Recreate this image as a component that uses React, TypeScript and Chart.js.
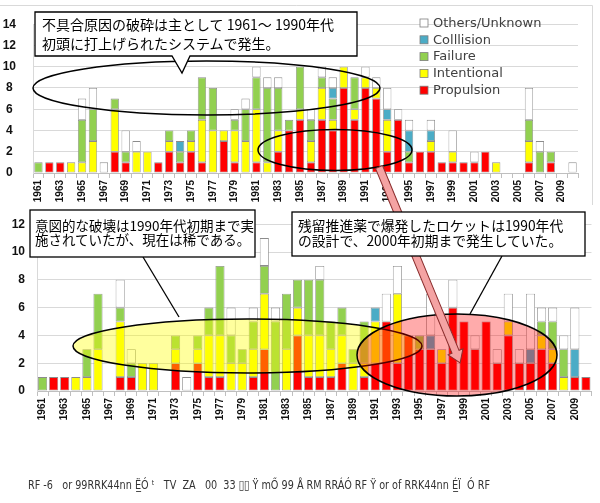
import React, { useEffect, useRef } from "react";
import { Chart, registerables } from "chart.js";

Chart.register(...registerables);

const years = [
  "1961", "1962", "1963", "1964", "1965", "1966", "1967", "1968", "1969", "1970",
  "1971", "1972", "1973", "1974", "1975", "1976", "1977", "1978", "1979", "1980",
  "1981", "1982", "1983", "1984", "1985", "1986", "1987", "1988", "1989", "1990",
  "1991", "1992", "1993", "1994", "1995", "1996", "1997", "1998", "1999", "2000",
  "2001", "2002", "2003", "2004", "2005", "2006", "2007", "2008", "2009", "2010",
];

// Upper panel: fragmentation events by cause
const upperPropulsion = [
  0, 1, 1, 0, 0, 0, 0, 2, 1, 0,
  0, 1, 2, 1, 2, 1, 0, 3, 1, 0,
  1, 0, 2, 4, 5, 1, 5, 4, 8, 5,
  8, 7, 2, 5, 1, 2, 2, 1, 1, 1,
  1, 2, 0, 0, 0, 1, 0, 1, 0, 0,
];
const upperIntentional = [
  0, 0, 0, 1, 1, 3, 0, 4, 0, 2,
  2, 0, 1, 0, 1, 4, 4, 1, 3, 3,
  5, 1, 2, 0, 1, 2, 3, 1, 2, 1,
  1, 1, 3, 0, 0, 0, 1, 0, 1, 0,
  0, 0, 1, 0, 0, 2, 0, 0, 0, 0,
];
const upperFailure = [
  1, 0, 0, 0, 4, 3, 0, 1, 1, 0,
  0, 0, 1, 1, 1, 4, 4, 0, 1, 3,
  3, 7, 4, 1, 4, 2, 1, 2, 0, 3,
  0, 0, 0, 0, 1, 0, 0, 0, 0, 0,
  0, 0, 0, 0, 0, 2, 2, 1, 0, 0,
];
const upperCollision = [
  0, 0, 0, 0, 0, 0, 0, 0, 0, 0,
  0, 0, 0, 1, 0, 0, 0, 0, 0, 0,
  0, 0, 0, 0, 0, 0, 0, 1, 0, 0,
  0, 0, 1, 0, 2, 0, 1, 0, 0, 0,
  0, 0, 0, 0, 0, 0, 0, 0, 0, 0,
];
const upperOthers = [
  0, 0, 0, 0, 2, 2, 1, 0, 2, 1,
  0, 0, 0, 0, 0, 0, 0, 0, 1, 1,
  1, 1, 1, 0, 0, 1, 1, 1, 0, 0,
  1, 1, 2, 1, 1, 0, 1, 0, 2, 0,
  1, 0, 0, 0, 0, 3, 1, 0, 0, 1,
];

// Lower panel
const lowerPropulsion = [
  0, 1, 1, 0, 0, 0, 0, 1, 1, 0,
  0, 0, 2, 0, 2, 1, 1, 0, 0, 1,
  3, 0, 0, 4, 1, 1, 1, 2, 0, 1,
  2, 5, 2, 4, 3, 3, 2, 6, 5, 3,
  5, 2, 4, 2, 2, 3, 2, 0, 1, 1,
];
const lowerIntentional = [
  0, 0, 0, 1, 1, 3, 0, 4, 0, 2,
  2, 0, 1, 0, 1, 3, 3, 2, 2, 2,
  4, 0, 3, 2, 3, 3, 2, 2, 2, 1,
  3, 0, 5, 0, 0, 0, 1, 0, 0, 0,
  0, 0, 1, 0, 0, 1, 1, 1, 0, 0,
];
const lowerFailure = [
  1, 0, 0, 0, 2, 4, 0, 1, 1, 0,
  0, 0, 1, 0, 1, 2, 5, 2, 1, 2,
  2, 5, 4, 2, 4, 4, 2, 2, 1, 3,
  0, 0, 0, 0, 1, 0, 0, 0, 0, 0,
  0, 0, 0, 0, 0, 1, 2, 2, 0, 0,
];
const lowerCollision = [
  0, 0, 0, 0, 0, 0, 0, 0, 0, 0,
  0, 0, 0, 0, 0, 0, 0, 0, 0, 0,
  0, 0, 0, 0, 0, 0, 0, 0, 0, 0,
  1, 0, 0, 0, 0, 1, 0, 0, 0, 0,
  0, 0, 0, 0, 1, 0, 0, 0, 2, 0,
];
const lowerOthers = [
  0, 0, 0, 0, 0, 0, 0, 2, 1, 0,
  0, 0, 0, 1, 0, 0, 0, 2, 0, 1,
  2, 1, 0, 0, 0, 1, 0, 0, 0, 0,
  0, 2, 2, 0, 0, 3, 0, 2, 0, 1,
  0, 1, 2, 1, 4, 1, 1, 1, 3, 0,
];

const seriesNames = ["Propulsion", "Intentional", "Failure", "Colllision", "Others/Unknown"];
const seriesColors = ["#ff0000", "#ffff00", "#92d050", "#4bacc6", "#ffffff"];

const upperMax = 14;
const lowerMax = 12;

Chart.defaults.font.family = "'Liberation Sans', Arial, sans-serif";

function buildDatasets(series: number[][], barPct: number) {
  return series.map((values, k) => ({
    label: seriesNames[k],
    data: values.map((v) => (v === 0 ? null : v)),
    backgroundColor: seriesColors[k],
    borderColor: "#8c8c8c",
    borderWidth: 0.8,
    borderSkipped: false as const,
    categoryPercentage: 1,
    barPercentage: barPct,
  }));
}

// legend for the upper panel, listed from the top of the stack down
const legendPlugin = {
  id: "stackLegend",
  afterDraw(chart: any) {
    const ctx = chart.ctx;
    ctx.save();
    ctx.font = "13px 'DejaVu Sans', sans-serif";
    ctx.textBaseline = "middle";
    const rows = [4, 3, 2, 1, 0];
    rows.forEach((k, r) => {
      const y = 23 + r * 16.8;
      ctx.fillStyle = seriesColors[k];
      ctx.fillRect(420, y - 4, 8, 8);
      ctx.strokeStyle = "#7f7f7f";
      ctx.lineWidth = 0.8;
      ctx.strokeRect(420, y - 4, 8, 8);
      ctx.fillStyle = "#404040";
      ctx.fillText(seriesNames[k], 433, y + 0.5);
    });
    ctx.restore();
  },
};

const framePlugin = {
  id: "frame",
  beforeDraw(chart: any) {
    const ctx = chart.ctx;
    ctx.save();
    ctx.strokeStyle = "#d9d9d9";
    ctx.lineWidth = 1;
    ctx.beginPath();
    ctx.moveTo(0, 5.5);
    ctx.lineTo(592.5, 5.5);
    ctx.lineTo(592.5, chart.height);
    ctx.stroke();
    ctx.restore();
  },
};

function makeConfig(
  series: number[][],
  max: number,
  barPct: number,
  padding: any,
  yWidth: number,
  xHeight: number,
  yPad: number,
  yAlign: string,
  plugins: any[]
): any {
  return {
    type: "bar",
    data: { labels: years, datasets: buildDatasets(series, barPct) },
    options: {
      responsive: false,
      animation: false,
      layout: { padding },
      plugins: { legend: { display: false }, tooltip: { enabled: false } },
      scales: {
        x: {
          stacked: true,
          grid: {
            display: true,
            drawOnChartArea: false,
            drawTicks: true,
            tickLength: 5,
            color: "#bfbfbf",
          },
          border: { color: "#bfbfbf" },
          ticks: {
            autoSkip: false,
            maxRotation: 90,
            minRotation: 90,
            padding: 2,
            color: "#111",
            font: { size: 10, weight: "bold" },
            callback: (_v: any, idx: number) => (idx % 2 === 0 ? years[idx] : ""),
          },
          afterFit: (s: any) => {
            s.height = xHeight;
          },
        },
        y: {
          stacked: true,
          min: 0,
          max,
          ticks: {
            stepSize: 2,
            padding: yPad,
            crossAlign: yAlign,
            color: "#111",
            font: { size: 12, weight: "bold" },
          },
          grid: { color: "#d9d9d9", drawTicks: false },
          border: { color: "#d9d9d9" },
          afterFit: (s: any) => {
            s.width = yWidth;
          },
        },
      },
    },
    plugins,
  };
}

function UpperChart() {
  const ref = useRef<HTMLCanvasElement | null>(null);
  useEffect(() => {
    if (!ref.current) return;
    const chart = new Chart(
      ref.current,
      makeConfig(
        [upperPropulsion, upperIntentional, upperFailure, upperCollision, upperOthers],
        upperMax,
        0.76,
        { left: 0, right: 22, top: 13, bottom: 0 },
        33,
        32,
        17,
        "center",
        [framePlugin, legendPlugin]
      )
    );
    return () => chart.destroy();
  }, []);
  return <canvas ref={ref} width={600} height={205} style={{ position: "absolute", left: 0, top: 0 }} />;
}

function LowerChart() {
  const ref = useRef<HTMLCanvasElement | null>(null);
  useEffect(() => {
    if (!ref.current) return;
    const chart = new Chart(
      ref.current,
      makeConfig(
        [lowerPropulsion, lowerIntentional, lowerFailure, lowerCollision, lowerOthers],
        lowerMax,
        0.82,
        { left: 0, right: 7, top: 10, bottom: 0 },
        37,
        49,
        12,
        "near",
        []
      )
    );
    return () => chart.destroy();
  }, []);
  return (
    <canvas
      ref={ref}
      width={600}
      height={235}
      style={{ position: "absolute", left: 0, top: 205, background: "#fff" }}
    />
  );
}

const jp = "'Noto Sans CJK JP', sans-serif";

function Notes() {
  return (
    <svg
      width={600}
      height={503}
      style={{ position: "absolute", left: 0, top: 0, pointerEvents: "none" }}
    >
      {/* upper panel outlines */}
      <ellipse cx={206.5} cy={88} rx={173.5} ry={27} fill="none" stroke="#000" strokeWidth={1.5} />
      <ellipse cx={335} cy={150} rx={77} ry={20.5} fill="none" stroke="#000" strokeWidth={1.5} />

      {/* lower panel highlights */}
      <ellipse cx={247.5} cy={346} rx={174.5} ry={27} fill="rgba(255,255,0,0.38)" stroke="#000" strokeWidth={1.5} />
      <ellipse cx={457} cy={355} rx={100} ry={41} fill="rgba(255,0,0,0.33)" stroke="#000" strokeWidth={1.5} />

      {/* arrow linking the two panels */}
      <g transform="translate(379,167) rotate(67.5)">
        <path
          d="M0,-3.8 L200,-3.8 L200,-8 L212,0 L200,8 L200,3.8 L0,3.8 Z"
          fill="#f4a3a3"
          stroke="#8b2e2e"
          strokeWidth={1}
        />
      </g>

      {/* upper callout */}
      <path
        d="M35,12 H357 V56 H190 L182,73 L172,56 H35 Z"
        fill="#fff"
        stroke="#000"
        strokeWidth={1.3}
      />
      <text x={42} y={30} fontFamily={jp} fontSize={14} fill="#000">
        不具合原因の破砕は主として 1961～ 1990年代
      </text>
      <text x={42} y={49} fontFamily={jp} fontSize={14} fill="#000">
        初頭に打上げられたシステムで発生。
      </text>

      {/* lower callouts */}
      <line x1={143} y1={257} x2={179} y2={317} stroke="#000" strokeWidth={1.3} />
      <rect x={30} y={210} width={225} height={47} fill="#fff" stroke="#000" strokeWidth={1.3} />
      <text x={35} y={231} fontFamily={jp} fontSize={13.5} fill="#000">
        意図的な破壊は1990年代初期まで実
      </text>
      <text x={35} y={245} fontFamily={jp} fontSize={13.5} fill="#000">
        施されていたが、現在は稀である。
      </text>

      <line x1={502} y1={256} x2={470} y2={314} stroke="#000" strokeWidth={1.3} />
      <rect x={292} y={212} width={293} height={44} fill="#fff" stroke="#000" strokeWidth={1.3} />
      <text x={298} y={231} fontFamily={jp} fontSize={13.8} fill="#000">
        残留推進薬で爆発したロケットは1990年代
      </text>
      <text x={298} y={246} fontFamily={jp} fontSize={13.8} fill="#000">
        の設計で、2000年初期まで発生していた。
      </text>

      {/* caption line */}
      <text
        x={28}
        y={489}
        fontFamily="'DejaVu Sans Condensed', 'DejaVu Sans', sans-serif"
        fontSize={13}
        fill="#333"
        textLength={462}
        lengthAdjust="spacingAndGlyphs"
        style={{ whiteSpace: "pre" }}
      >
        {"RF -6   or 99RRK44nn Ë̲Ó ᵗ   TV  ZA   00  33 ▯▯ Ÿ mŐ 99 Å RM RRÁÓ RF Ÿ or of RRK44nn É̲Ï  Ó RF"}
      </text>
    </svg>
  );
}

export default function App() {
  return (
    <div
      style={{
        position: "absolute",
        left: 0,
        top: 0,
        width: 600,
        height: 503,
        background: "#fff",
        overflow: "hidden",
      }}
    >
      <UpperChart />
      <LowerChart />
      <Notes />
    </div>
  );
}
